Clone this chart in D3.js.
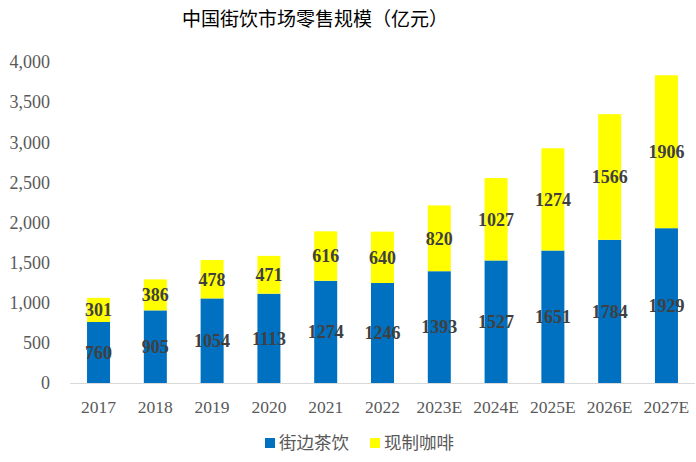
<!DOCTYPE html>
<html>
<head>
<meta charset="utf-8">
<script src="https://cdn.jsdelivr.net/npm/d3@7"></script>
<style>
  body { margin: 0; background: #fff; }
  svg text { font-family: "Liberation Serif", "Times New Roman", serif; }
</style>
</head>
<body>
<svg id="chart" width="696" height="462"></svg>
<script>
const years = ["2017", "2018", "2019", "2020", "2021", "2022", "2023E", "2024E", "2025E", "2026E", "2027E"];
const teaValues = [760, 905, 1054, 1113, 1274, 1246, 1393, 1527, 1651, 1784, 1929];
const coffeeValues = [301, 386, 478, 471, 616, 640, 820, 1027, 1274, 1566, 1906];
const yTicks = [0, 500, 1000, 1500, 2000, 2500, 3000, 3500, 4000];
const seriesNames = ["街边茶饮", "现制咖啡"];
const seriesColors = ["#0070C0", "#FFFF00"];

const svg = d3.select("#chart");

const x = d3.scaleBand().domain(years).range([70, 695]).paddingInner(0.595).paddingOuter(0.3);
const y = d3.scaleLinear().domain([0, 4000]).range([383, 62]);

// title
svg.append("text")
  .attr("x", 315).attr("y", 26)
  .attr("text-anchor", "middle")
  .style("font-family", "'Noto Sans CJK SC', sans-serif")
  .style("font-size", "19px")
  .attr("fill", "#000")
  .text("中国街饮市场零售规模（亿元）");

// y axis labels
svg.append("g")
  .selectAll("text")
  .data(yTicks)
  .join("text")
  .attr("x", 50)
  .attr("y", (d) => y(d))
  .attr("dy", "0.35em")
  .attr("text-anchor", "end")
  .attr("fill", "#595959")
  .style("font-size", "18px")
  .text((d) => d3.format(",")(d));

// stacked data
const rows = years.map((yr, i) => ({ year: yr, tea: teaValues[i], coffee: coffeeValues[i] }));
const stack = d3.stack().keys(["tea", "coffee"])(rows);

const layers = svg.append("g")
  .selectAll("g")
  .data(stack)
  .join("g")
  .attr("fill", (d, i) => seriesColors[i]);

layers.selectAll("rect")
  .data((d) => d)
  .join("rect")
  .attr("x", (d) => x(d.data.year))
  .attr("width", x.bandwidth())
  .attr("y", (d) => y(d[1]))
  .attr("height", (d) => y(d[0]) - y(d[1]));

// value labels
layers.selectAll("text")
  .data((d) => d)
  .join("text")
  .attr("x", (d) => x(d.data.year) + x.bandwidth() / 2)
  .attr("y", (d) => y((d[0] + d[1]) / 2))
  .attr("dy", "0.35em")
  .attr("text-anchor", "middle")
  .attr("fill", "#404040")
  .style("font-size", "18px")
  .style("font-weight", "bold")
  .text((d) => d[1] - d[0]);

// x axis line
svg.append("line")
  .attr("x1", 70).attr("x2", 695)
  .attr("y1", y(0) + 0.5).attr("y2", y(0) + 0.5)
  .attr("stroke", "#d9d9d9")
  .attr("stroke-width", 1);

// x labels
svg.append("g")
  .selectAll("text")
  .data(years)
  .join("text")
  .attr("x", (d) => x(d) + x.bandwidth() / 2)
  .attr("y", 413)
  .attr("text-anchor", "middle")
  .attr("fill", "#595959")
  .style("font-size", "17.5px")
  .text((d) => d);

// legend
const legendX = [265, 370];
const legend = svg.append("g")
  .selectAll("g")
  .data(seriesNames)
  .join("g")
  .attr("transform", (d, i) => `translate(${legendX[i]},438)`);
legend.append("rect")
  .attr("width", 10).attr("height", 10)
  .attr("fill", (d, i) => seriesColors[i]);
legend.append("text")
  .attr("x", 14).attr("y", 5)
  .attr("dy", "0.35em")
  .attr("fill", "#595959")
  .style("font-family", "'Noto Sans CJK SC', sans-serif")
  .style("font-size", "17.5px")
  .text((d) => d);
</script>
</body>
</html>
